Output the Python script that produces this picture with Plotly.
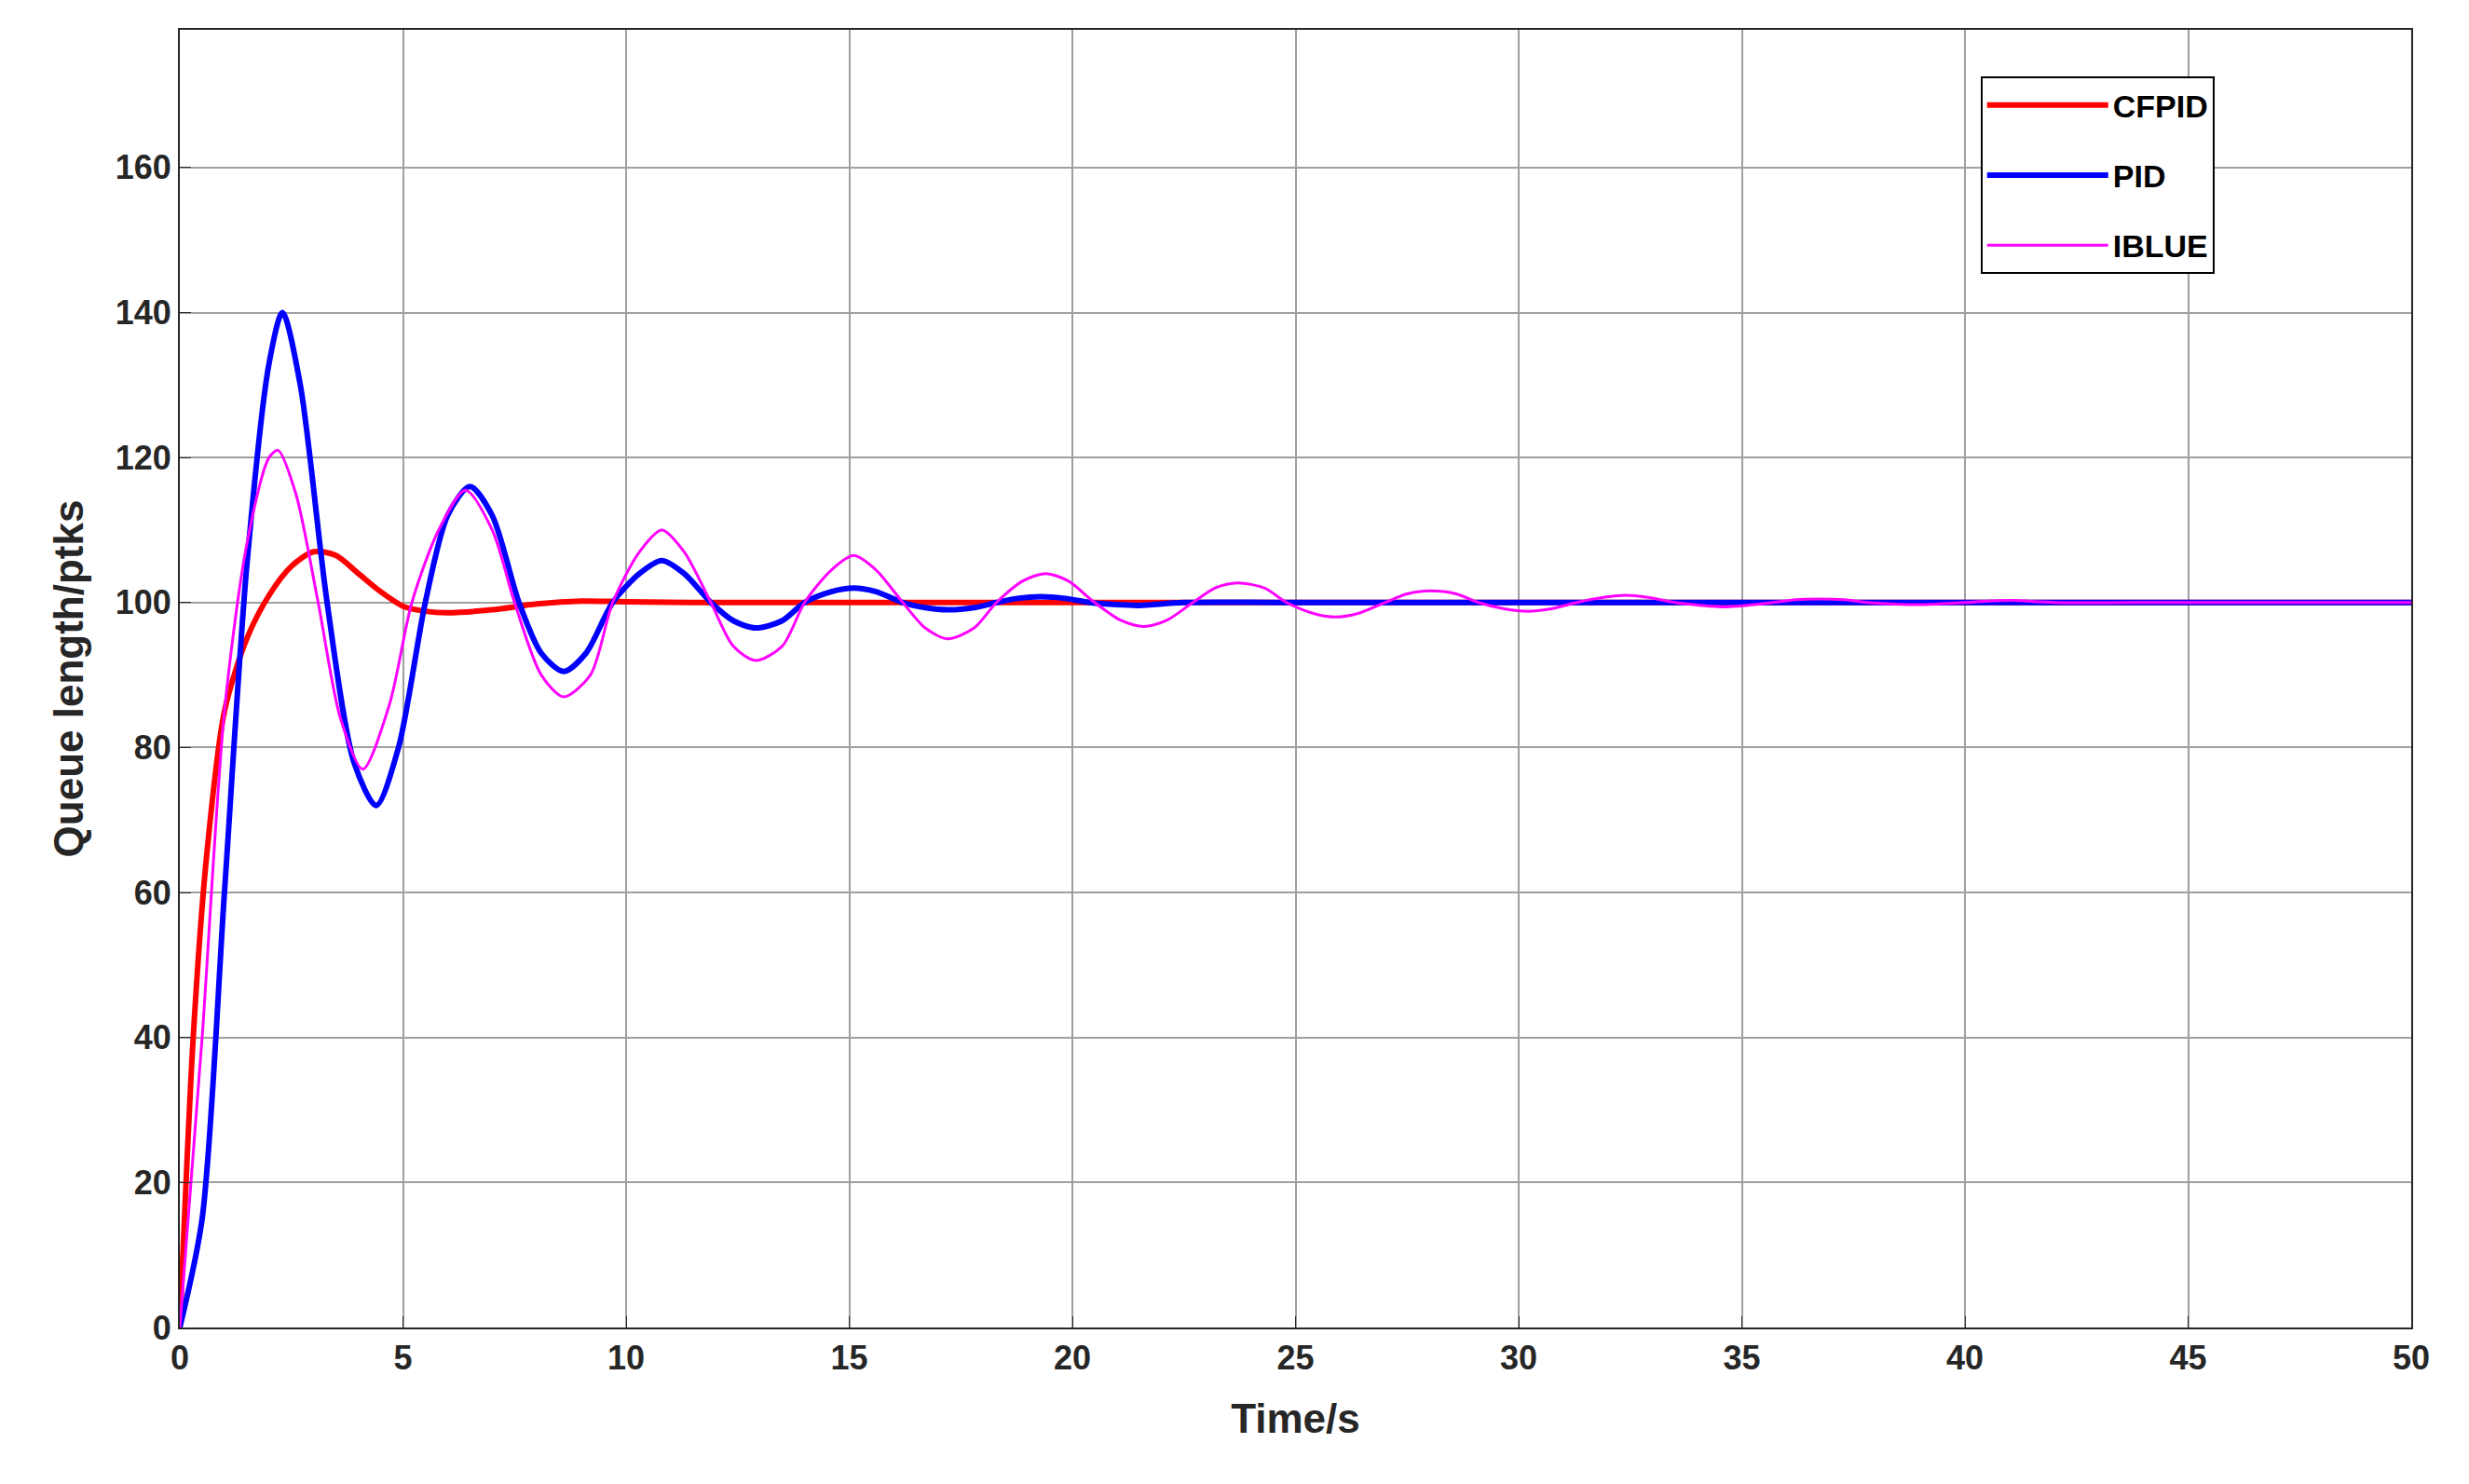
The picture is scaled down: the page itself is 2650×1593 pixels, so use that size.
import plotly.graph_objects as go

t_cf = [0, 0.3, 0.6, 1.0, 1.5, 2.0, 2.5, 3.0, 3.5, 4.0, 4.5, 5.0, 5.5, 6.0, 7.0, 8.0, 9.0, 10.0, 12.0, 20.0, 50.0]
y_cf = [0, 40, 65, 85, 95, 101, 105, 107, 106.5, 104, 101.5, 99.5, 98.8, 98.6, 99, 99.8, 100.2, 100.1, 100, 100, 100]

t_pid = [0, 0.5, 1.0, 1.5, 2.0, 2.3, 2.7, 3.3, 3.9, 4.4, 4.9, 5.5, 6.0, 6.5, 7.0, 7.6, 8.1, 8.6, 9.1, 9.7, 10.3, 10.8, 11.3, 11.9, 12.4, 12.9, 13.5, 14.0, 14.6, 15.1, 15.6, 16.2, 16.7, 17.2, 17.8, 18.3, 18.8, 19.3, 19.8, 20.4, 21.0, 21.5, 22.5, 25.0, 50.0]
y_pid = [0, 15, 60, 105, 133, 140, 130, 100, 78, 72, 80, 100, 112, 116, 112, 100, 93, 90.5, 93, 100, 104, 105.8, 104, 100, 97.5, 96.5, 97.5, 100, 101.5, 102, 101.5, 100, 99.3, 99, 99.3, 100, 100.6, 100.8, 100.6, 100, 99.7, 99.6, 100, 100, 100]

t_ib = [0, 0.5, 1.0, 1.5, 2.0, 2.2, 2.6, 3.1, 3.6, 4.1, 4.7, 5.2, 5.8, 6.4, 7.0, 7.5, 8.1, 8.6, 9.2, 9.7, 10.3, 10.8, 11.3, 11.9, 12.4, 12.9, 13.5, 14.0, 14.6, 15.1, 15.6, 16.2, 16.7, 17.2, 17.8, 18.3, 18.9, 19.4, 19.9, 20.5, 21.1, 21.6, 22.1, 22.7, 23.2, 23.7, 24.3, 24.8, 25.4, 25.9, 26.4, 27.0, 27.5, 28.0, 28.6, 29.1, 29.7, 30.2, 30.7, 31.3, 31.9, 32.4, 32.9, 33.5, 34.1, 34.6, 35.1, 35.7, 36.2, 36.7, 37.3, 37.8, 38.4, 38.9, 39.4, 40.0, 40.5, 41.0, 42.0, 44.0, 50.0]
y_ib = [0, 40, 85, 108, 120, 121, 115, 100, 84, 77, 86, 100, 110, 115.5, 110, 100, 90, 87, 90, 100, 107, 110, 107, 100, 94, 92, 94, 100, 104.5, 106.5, 104.5, 100, 96.5, 95, 96.5, 100, 103, 104, 103, 100, 97.5, 96.7, 97.5, 100, 102, 102.7, 102, 100, 98.5, 98, 98.5, 100, 101.2, 101.6, 101.2, 100, 99.1, 98.8, 99.1, 100, 100.7, 101, 100.7, 100, 99.6, 99.4, 99.6, 100, 100.4, 100.5, 100.4, 100, 99.8, 99.7, 99.8, 100, 100.2, 100.3, 100, 100, 100]

fnt = "Liberation Sans"
fig = go.Figure()
fig.add_trace(go.Scatter(x=t_cf, y=y_cf, name="<b>CFPID</b>", mode="lines", legendgroup="a",
                         line=dict(color="#ff0000", width=6, shape="spline", smoothing=0.8)))
fig.add_trace(go.Scatter(x=t_pid, y=y_pid, name="<b>PID</b>", mode="lines", legendgroup="b",
                         line=dict(color="#0000ff", width=6, shape="spline", smoothing=0.8)))
fig.add_trace(go.Scatter(x=t_ib, y=y_ib, name="<b>IBLUE</b>", mode="lines", legendgroup="c",
                         line=dict(color="#ff00ff", width=3, shape="spline", smoothing=0.8)))

ax = dict(showgrid=True, gridcolor="#a0a0a0", gridwidth=2, showline=True, linecolor="#262626",
          linewidth=2, mirror=True, ticks="inside", ticklen=12, tickcolor="#262626", zeroline=False,
          tickfont=dict(family=fnt, size=36, color="#262626", weight="bold"))
fig.update_layout(
    width=2650, height=1593, paper_bgcolor="white", plot_bgcolor="white",
    margin=dict(l=185, r=70, t=24, b=176),
    font=dict(family=fnt, color="#262626"),
    xaxis=dict(ax, range=[0, 50], dtick=5, title=dict(text="<b>Time/s</b>", font=dict(size=44), standoff=30)),
    yaxis=dict(ax, range=[0, 179], tickvals=[0, 20, 40, 60, 80, 100, 120, 140, 160],
               title=dict(text="<b>Queue length/ptks</b>", font=dict(size=44), standoff=20)),
    legend=dict(x=0.807, y=0.964, xanchor="left", yanchor="top", bgcolor="white",
                bordercolor="#000000", borderwidth=2, font=dict(size=34, color="#000"),
                itemwidth=130, tracegroupgap=28),
    showlegend=True,
)
fig.write_html("out.html")
